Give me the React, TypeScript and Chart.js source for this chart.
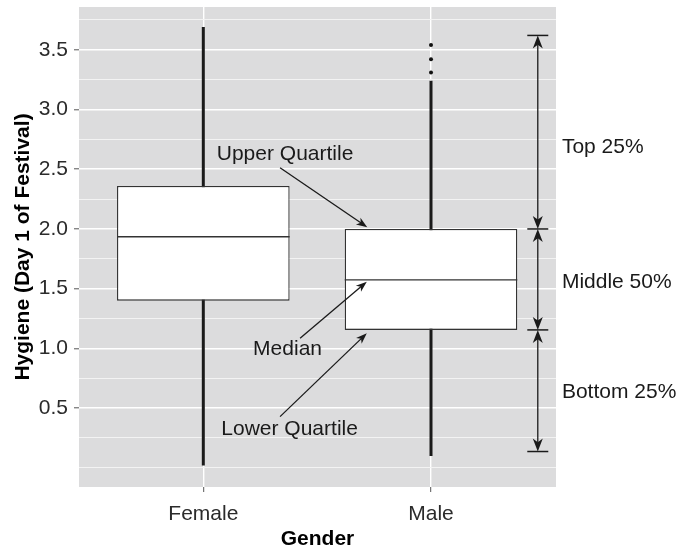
import React, { useEffect, useRef } from 'react';
import { Chart, registerables } from 'chart.js';

Chart.register(...registerables);

// ---- data ----
const groups = ['Female', 'Male'];
const groupPositions = [1, 2];
const whiskerLow = [0.02, 0.1];
const quartile1 = [1.4, 1.155];
const medians = [1.935, 1.573];
const quartile3 = [2.36, 2.0];
const whiskerHigh = [3.69, 3.24];
const maleOutliers = [3.31, 3.42, 3.54];

const yTickValues = [0.5, 1.0, 1.5, 2.0, 2.5, 3.0, 3.5];
const yTickLabels = ['0.5', '1.0', '1.5', '2.0', '2.5', '3.0', '3.5'];
const yGridValues = [0, 0.25, 0.5, 0.75, 1.0, 1.25, 1.5, 1.75, 2.0, 2.25, 2.5, 2.75, 3.0, 3.25, 3.5, 3.75];

// right-hand bracket (male distribution spans)
const bracketBreaks = [3.62, 2.0, 1.155, 0.137];
const bracketLabels = ['Top 25%', 'Middle 50%', 'Bottom 25%'];

const calloutLabels = ['Upper Quartile', 'Median', 'Lower Quartile'];

// ---- annotation layout (data units) ----
const calloutLayout = [
  { tx: 1.359, ty: 2.575, x1: 1.337, y1: 2.513, x2: 1.72, y2: 2.014 },
  { tx: 1.37, ty: 0.946, x1: 1.425, y1: 1.085, x2: 1.718, y2: 1.559 },
  { tx: 1.379, ty: 0.276, x1: 1.337, y1: 0.429, x2: 1.718, y2: 1.127 },
];
const bracketX = 2.469;
const bracketLabelX = 2.575;
const bracketLabelY = [2.635, 1.509, 0.583];

const FONT = "'Liberation Sans', Arial, Helvetica, sans-serif";
const FS = 21;

function drawArrowHead(ctx: CanvasRenderingContext2D, x1: number, y1: number, x2: number, y2: number, len: number, w: number) {
  const dx = x2 - x1;
  const dy = y2 - y1;
  const d = Math.hypot(dx, dy) || 1;
  const ux = dx / d;
  const uy = dy / d;
  const px = -uy;
  const py = ux;
  ctx.beginPath();
  ctx.moveTo(x2, y2);
  ctx.lineTo(x2 - ux * len + px * w / 2, y2 - uy * len + py * w / 2);
  ctx.lineTo(x2 - ux * len * 0.72, y2 - uy * len * 0.72);
  ctx.lineTo(x2 - ux * len - px * w / 2, y2 - uy * len - py * w / 2);
  ctx.closePath();
  ctx.fill();
}

const boxPlugin = {
  id: 'boxDecor',
  beforeDraw(chart: any) {
    const { ctx, chartArea } = chart;
    ctx.save();
    ctx.fillStyle = '#dcdcdd';
    ctx.fillRect(chartArea.left, chartArea.top, chartArea.right - chartArea.left, chartArea.bottom - chartArea.top);
    ctx.restore();
  },
  afterDatasetsDraw(chart: any) {
    const { ctx } = chart;
    const yS = chart.scales.y;
    const meta = chart.getDatasetMeta(0);
    ctx.save();
    ctx.strokeStyle = '#333333';
    ctx.lineWidth = 1.3;
    meta.data.forEach((el: any, i: number) => {
      const y = yS.getPixelForValue(medians[i]);
      ctx.beginPath();
      ctx.moveTo(el.x - el.width / 2, y);
      ctx.lineTo(el.x + el.width / 2, y);
      ctx.stroke();
    });
    ctx.restore();
  },
  afterDraw(chart: any) {
    const { ctx } = chart;
    const xS = chart.scales.x;
    const yS = chart.scales.y;
    const X = (v: number) => xS.getPixelForValue(v);
    const Y = (v: number) => yS.getPixelForValue(v);
    ctx.save();
    ctx.font = `${FS}px ${FONT}`;
    ctx.fillStyle = '#1a1a1a';
    ctx.strokeStyle = '#1a1a1a';
    ctx.textBaseline = 'alphabetic';

    // callouts
    calloutLabels.forEach((label, i) => {
      const l = calloutLayout[i];
      ctx.textAlign = 'center';
      ctx.fillText(label, X(l.tx), Y(l.ty));
      const x1 = X(l.x1), y1 = Y(l.y1), x2 = X(l.x2), y2 = Y(l.y2);
      ctx.lineWidth = 1.3;
      const d = Math.hypot(x2 - x1, y2 - y1);
      const ex = x2 - ((x2 - x1) / d) * 7;
      const ey = y2 - ((y2 - y1) / d) * 7;
      ctx.beginPath();
      ctx.moveTo(x1, y1);
      ctx.lineTo(ex, ey);
      ctx.stroke();
      drawArrowHead(ctx, x1, y1, x2, y2, 11, 8);
    });

    // bracket on the right
    const bx = X(bracketX);
    ctx.lineWidth = 1.5;
    bracketBreaks.forEach((v) => {
      const y = Y(v);
      ctx.beginPath();
      ctx.moveTo(bx - 10.5, y);
      ctx.lineTo(bx + 10.5, y);
      ctx.stroke();
    });
    ctx.lineWidth = 1.3;
    for (let i = 0; i < bracketBreaks.length - 1; i++) {
      const ya = Y(bracketBreaks[i]);
      const yb = Y(bracketBreaks[i + 1]);
      ctx.beginPath();
      ctx.moveTo(bx, ya + 9);
      ctx.lineTo(bx, yb - 9);
      ctx.stroke();
      drawArrowHead(ctx, bx, yb, bx, ya, 13, 10);
      drawArrowHead(ctx, bx, ya, bx, yb, 13, 10);
    }
    ctx.textAlign = 'left';
    bracketLabels.forEach((label, i) => {
      ctx.fillText(label, X(bracketLabelX), Y(bracketLabelY[i]));
    });
    ctx.restore();
  },
};

const isMajor = (v: number) => yTickValues.some((t) => Math.abs(t - v) < 1e-9);

export default function App() {
  const ref = useRef<HTMLCanvasElement>(null);
  useEffect(() => {
    document.body.style.margin = '0';
    const chart = new Chart(ref.current as HTMLCanvasElement, {
      type: 'bar',
      data: {
        datasets: [
          {
            type: 'bar',
            data: groupPositions.map((p, i) => ({ x: p, y: [quartile1[i], quartile3[i]] })) as any,
            backgroundColor: '#ffffff',
            borderColor: '#333333',
            borderWidth: 1.3,
            borderSkipped: false,
            barPercentage: 0.758,
            categoryPercentage: 1,
            order: 2,
          } as any,
          ...groupPositions.map((p, i) => ({
            type: 'line',
            data: [
              { x: p, y: whiskerLow[i] },
              { x: p, y: whiskerHigh[i] },
            ],
            borderColor: '#1a1a1a',
            borderWidth: 3,
            pointRadius: 0,
            borderCapStyle: 'butt',
            order: 3,
          } as any)),
          {
            type: 'scatter',
            data: maleOutliers.map((v) => ({ x: groupPositions[1], y: v })),
            backgroundColor: '#111111',
            borderWidth: 0,
            pointRadius: 2,
            order: 1,
          } as any,
        ],
      },
      options: {
        responsive: false,
        animation: false,
        devicePixelRatio: 1,
        events: [],
        layout: { padding: { top: 7, right: 126, left: 0, bottom: 0 } },
        plugins: { legend: { display: false }, tooltip: { enabled: false } },
        scales: {
          x: {
            type: 'linear',
            min: 0.454,
            max: 2.549,
            offset: false,
            afterBuildTicks: (s: any) => {
              s.ticks = groupPositions.map((v) => ({ value: v }));
            },
            afterFit: (s: any) => {
              s.height = 62;
              s.paddingLeft = 0;
              s.paddingRight = 0;
            },
            ticks: {
              autoSkip: false,
              maxRotation: 0,
              padding: 10,
              color: '#2b2b2b',
              font: { family: FONT, size: FS },
              callback: (_v: any, i: number) => groups[i],
            },
            grid: {
              offset: false,
              color: '#ffffff',
              lineWidth: 1.4,
              tickLength: 5,
              tickColor: '#555555',
              tickWidth: 1,
            },
            border: { display: false },
            title: {
              display: true,
              text: 'Gender',
              color: '#000000',
              font: { family: FONT, size: FS, weight: 'bold', lineHeight: 1 },
              padding: { top: 0, bottom: -1 },
            },
          },
          y: {
            type: 'linear',
            min: -0.16,
            max: 3.858,
            afterBuildTicks: (s: any) => {
              s.ticks = yGridValues.map((v) => ({ value: v }));
            },
            afterFit: (s: any) => {
              s.width = 79;
              s.paddingTop = 0;
              s.paddingBottom = 0;
            },
            ticks: {
              autoSkip: false,
              padding: 6,
              color: '#2b2b2b',
              font: { family: FONT, size: FS },
              callback: (v: any) => {
                const i = yTickValues.findIndex((t) => Math.abs(t - Number(v)) < 1e-9);
                return i >= 0 ? yTickLabels[i] : '';
              },
            },
            grid: {
              color: (c: any) => (isMajor(c.tick.value) ? '#ffffff' : '#f3f3f3'),
              lineWidth: (c: any) => (isMajor(c.tick.value) ? 1.6 : 1.1),
              tickColor: (c: any) => (isMajor(c.tick.value) ? '#555555' : 'rgba(0,0,0,0)'),
              tickLength: 5,
              tickWidth: 1,
            },
            border: { display: false },
            title: {
              display: true,
              text: 'Hygiene (Day 1 of Festival)',
              color: '#000000',
              font: { family: FONT, size: FS, weight: 'bold', lineHeight: 1 },
              padding: { top: 12.5, bottom: 0 },
            },
          },
        },
      } as any,
      plugins: [boxPlugin as any],
    });
    return () => chart.destroy();
  }, []);
  return (
    <div style={{ position: 'fixed', left: 0, top: 0, width: 682, height: 549 }}>
      <canvas ref={ref} width={682} height={549} style={{ display: 'block', width: 682, height: 549 }} />
    </div>
  );
}
